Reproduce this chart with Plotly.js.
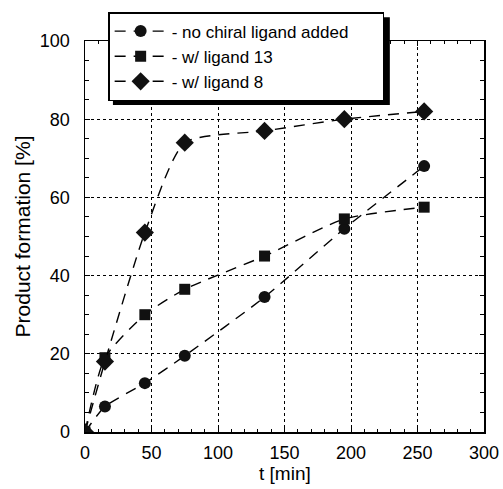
<!DOCTYPE html>
<html>
<head>
<meta charset="utf-8">
<script src="https://cdn.plot.ly/plotly-3.0.1.min.js"></script>
<style>html,body{margin:0;padding:0;background:#fff;}#chart{width:503px;height:489px;}</style>
</head>
<body>
<div id="chart"></div>
<script>
const timeMin = [0, 15, 45, 75, 135, 195, 255];
const noLigand = [0, 6.5, 12.5, 19.5, 34.5, 52, 68];
const ligand13 = [0, 19, 30, 36.5, 45, 54.5, 57.5];
const ligand8 = [0, 18, 51, 74, 77, 80, 82];
const seriesNames = ['- no chiral ligand added\u00a0\u00a0\u00a0\u00a0\u00a0\u00a0', '- w/ ligand 13', '- w/ ligand 8'];
const xTicks = [0, 50, 100, 150, 200, 250, 300];
const yTicks = [0, 20, 40, 60, 80, 100];
const xTitle = 't [min]';
const yTitle = 'Product formation [%]';

const lineStyle = {color: '#000', width: 1.4, dash: '11px,8px', shape: 'spline', smoothing: 0.6};
function tr(y, name, symbol, size) {
  return {x: timeMin, y: y, name: name, type: 'scatter', mode: 'lines+markers',
    line: lineStyle, marker: {symbol: symbol, size: size, color: '#111', line: {width: 0}}};
}
const data = [
  tr(noLigand, seriesNames[0], 'circle', 12),
  tr(ligand13, seriesNames[1], 'square', 11),
  tr(ligand8, seriesNames[2], 'diamond', 14)
];
const font = {family: 'Liberation Sans, Arial, sans-serif', color: '#000'};
const axisCommon = {
  showline: true, linecolor: '#000', linewidth: 1.5, mirror: 'ticks',
  ticks: 'inside', ticklen: 5, tickcolor: '#000', tickwidth: 1,
  showgrid: true, gridcolor: '#000', griddash: 'dot', gridwidth: 1,
  zeroline: false, tickfont: {size: 18}
};
const layout = {
  width: 503, height: 489,
  margin: {l: 85, r: 19, t: 41, b: 57},
  paper_bgcolor: '#fff', plot_bgcolor: '#fff',
  font: font,
  showlegend: true,
  legend: {x: 0.058, y: 1.074, xanchor: 'left', yanchor: 'top',
    bgcolor: '#fff', bordercolor: '#000', borderwidth: 1.5,
    font: {size: 17}, tracegroupgap: 0, itemwidth: 52},
  xaxis: Object.assign({}, axisCommon, {range: [0, 300], tickvals: xTicks, ticklabelstandoff: 4,
    minor: {dtick: 10, ticks: 'inside', ticklen: 3, tickcolor: '#000', showgrid: false}}),
  yaxis: Object.assign({}, axisCommon, {range: [0, 100], tickvals: yTicks, ticklabelstandoff: 10,
    minor: {dtick: 5, ticks: 'inside', ticklen: 4, tickcolor: '#000', showgrid: false},
    title: {text: yTitle, font: {size: 21}, standoff: 3}}),
  annotations: [{text: xTitle, xref: 'paper', yref: 'paper', x: 0.5, y: -0.107,
    xanchor: 'center', yanchor: 'middle', showarrow: false, font: {size: 19}}],
  shapes: [{type: 'rect', xref: 'paper', yref: 'paper', x0: 0.07, x1: 0.764, y0: 0.836, y1: 1.061,
    fillcolor: '#000', line: {width: 0}, layer: 'above'}]
};
Plotly.newPlot('chart', data, layout, {displayModeBar: false, staticPlot: true});
</script>
</body>
</html>
